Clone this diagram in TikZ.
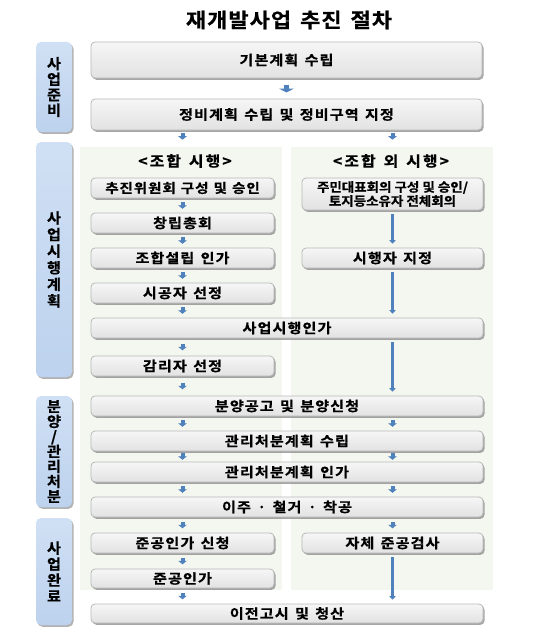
\documentclass[tikz,border=0pt]{standalone}
\usepackage{fontspec}
\setmainfont{Noto Sans CJK KR}[BoldFont={* Bold}]
\newfontfamily\krbox{Noto Sans CJK KR}[BoldFont={* Bold}, LetterSpace=8, WordSpace=1.4, BoldFeatures={FakeBold=0.6, FakeStretch=1.12}]
\newfontfamily\krone{Noto Sans CJK KR}[BoldFont={* Bold}, LetterSpace=7, WordSpace=1.2, BoldFeatures={FakeBold=0.6, FakeStretch=1.12}]
\newfontfamily\krtitle{Noto Sans CJK KR}[BoldFont={* Bold}, LetterSpace=5, WordSpace=1.5, BoldFeatures={FakeBold=0.6, FakeStretch=1.1}]
\newfontfamily\krhead{Noto Sans CJK KR}[BoldFont={* Bold}, LetterSpace=14, WordSpace=1.4, BoldFeatures={FakeBold=0.6, FakeStretch=1.1}]
\newfontfamily\krtight{Noto Sans CJK KR}[BoldFont={* Bold}, BoldFeatures={FakeBold=0.6, FakeStretch=1.08}]
\newfontfamily\krlabel{Noto Sans CJK KR}[BoldFont={* Bold}, BoldFeatures={FakeBold=0.6, FakeStretch=1.05}]
\usetikzlibrary{shadows,calc,arrows.meta}
\definecolor{boxtop}{HTML}{F6F6F6}
\definecolor{boxbot}{HTML}{E2E2E2}
\definecolor{boxline}{HTML}{B8B8B8}
\definecolor{lbltop}{HTML}{D0E0F4}
\definecolor{lblbot}{HTML}{BDD2EE}
\definecolor{arr}{HTML}{4F81BD}
\definecolor{panel}{HTML}{F4F7EF}
\tikzset{
  gbox/.style={rounded corners=4pt, draw=boxline, line width=0.8pt,
    top color=boxtop, bottom color=boxbot, inner sep=0pt,
    drop shadow={shadow xshift=1.5pt, shadow yshift=-1.8pt, fill=black!50, opacity=0.7},
    font=\krbox\bfseries\fontsize{13.5}{15}\selectfont, text=black},
  lbox/.style={rounded corners=5pt, draw=none, top color=lbltop, bottom color=lblbot,
    inner sep=0pt, minimum width=36pt, align=center,
    drop shadow={shadow xshift=1.5pt, shadow yshift=-1.8pt, fill=black!50, opacity=0.6}},
  lfont/.style={font=\krlabel\bfseries\fontsize{14.5}{#1}\selectfont},
  panelbox/.style={fill=panel, draw=none, inner sep=0pt},
  sarrow/.style={draw=arr, line width=4pt, -{Triangle[width=8.5pt,length=3.5pt]},
    to path={($(\tikztostart)!0.5!(\tikztotarget)+(0,-3.3)$) -- ($(\tikztostart)!0.5!(\tikztotarget)+(0,3.3)$)}},
  barrow/.style={draw=arr, line width=5pt, -{Triangle[width=15pt,length=4pt]},
    to path={($(\tikztostart)!0.5!(\tikztotarget)+(0,-4)$) -- ($(\tikztostart)!0.5!(\tikztotarget)+(0,4)$)}},
  larrow/.style={draw=arr, line width=3pt, -{Triangle[width=6.5pt,length=3.5pt]},
    shorten <=3.5pt, shorten >=4pt},
  head/.style={font=\krhead\bfseries\fontsize{14.5}{17}\selectfont, inner sep=0pt},
}
\begin{document}
\begin{tikzpicture}[x=1pt,y=-1pt]
\useasboundingbox (0,0) rectangle (550,642);
% title
\node[font=\krtitle\bfseries\fontsize{20}{24}\selectfont, inner sep=0pt] (title) at (289,20) {재개발사업 추진 절차};
% panels
\node[panelbox, minimum width=202pt, minimum height=443pt] (PL) at (181,368.5) {};
\node[panelbox, minimum width=202pt, minimum height=443pt] (PR) at (392,368.5) {};
% side labels
\node[lbox, minimum height=90pt, lfont=15.5pt] (L1) at (54,87) {사\\업\\준\\비};
\node[lbox, minimum height=235pt, lfont=16.6pt] (L2) at (54,259.5) {사\\업\\시\\행\\계\\획};
\node[lbox, minimum height=111pt, lfont=15pt] (L3) at (54,451.5) {분\\양\\/\\관\\리\\처\\분};
\node[lbox, minimum height=107pt, lfont=16pt] (L4) at (54,571.5) {사\\업\\완\\료};
% headers
\node[head] (HL) at (185,161) {<조합 시행>};
\node[head] (HR) at (391,161) {<조합 외 시행>};
% boxes
\node[gbox, minimum width=391pt, minimum height=36pt] (B1) at (286.5,60) {기본계획 수립};
\node[gbox, minimum width=391pt, minimum height=31pt] (B2) at (286.5,114.5) {정비계획 수립 및 정비구역 지정};
\node[gbox, minimum width=183pt, minimum height=20pt, font=\krone\bfseries\fontsize{13}{15}\selectfont] (C1) at (182.5,188) {추진위원회 구성 및 승인};
\node[gbox, minimum width=181pt, minimum height=32pt, align=center,
  font=\krtight\bfseries\fontsize{12.5}{14}\selectfont] (R1) at (392.5,194) {주민대표회의 구성 및 승인/\\토지등소유자 전체회의};
\node[gbox, minimum width=183pt, minimum height=20pt] (C2) at (182.5,223) {창립총회};
\node[gbox, minimum width=183pt, minimum height=20pt] (C3) at (182.5,258) {조합설립 인가};
\node[gbox, minimum width=181pt, minimum height=20pt] (R2) at (392.5,258) {시행자 지정};
\node[gbox, minimum width=183pt, minimum height=20pt] (C4) at (182.5,293) {시공자 선정};
\node[gbox, minimum width=392pt, minimum height=20pt] (B3) at (287,328) {사업시행인가};
\node[gbox, minimum width=183pt, minimum height=20pt] (C5) at (182.5,366) {감리자 선정};
\node[gbox, minimum width=392pt, minimum height=20pt] (B4) at (287,406) {분양공고 및 분양신청};
\node[gbox, minimum width=392pt, minimum height=20pt] (B5) at (287,441) {관리처분계획 수립};
\node[gbox, minimum width=392pt, minimum height=20pt] (B6) at (287,472) {관리처분계획 인가};
\node[gbox, minimum width=392pt, minimum height=20pt] (B7) at (287,507) {이주 · 철거 · 착공};
\node[gbox, minimum width=183pt, minimum height=20pt] (C6) at (182.5,543) {준공인가 신청};
\node[gbox, minimum width=181pt, minimum height=20pt] (R3) at (392.5,543) {자체 준공검사};
\node[gbox, minimum width=183pt, minimum height=19pt] (C7) at (182.5,578.5) {준공인가};
\node[gbox, minimum width=392pt, minimum height=19pt] (B8) at (287,613.5) {이전고시 및 청산};
% arrows
\draw[barrow] (B1.south) to (B2.north);
\draw[sarrow] (B2.south -| C1) to ($(B2.south -| C1)+(0,12)$);
\draw[sarrow] (B2.south -| R1) to ($(B2.south -| R1)+(0,12)$);
\draw[sarrow] (C1.south) to (C2.north);
\draw[sarrow] (C2.south) to (C3.north);
\draw[sarrow] (C3.south) to (C4.north);
\draw[sarrow] (C4.south) to (B3.north -| C4);
\draw[sarrow] (B3.south -| C5) to (C5.north);
\draw[sarrow] (C5.south) to (B4.north -| C5);
\draw[sarrow] (B4.south -| C5) to (B5.north -| C5);
\draw[sarrow] (B4.south -| R3) to (B5.north -| R3);
\draw[sarrow] (B5.south -| C5) to (B6.north -| C5);
\draw[sarrow] (B5.south -| R3) to (B6.north -| R3);
\draw[sarrow] (B6.south -| C5) to (B7.north -| C5);
\draw[sarrow] (B6.south -| R3) to (B7.north -| R3);
\draw[sarrow] (B7.south -| C6) to (C6.north);
\draw[sarrow] (B7.south -| R3) to (R3.north);
\draw[sarrow] (C6.south) to (C7.north);
\draw[sarrow] (C7.south) to (B8.north -| C7);
\draw[larrow] (R1.south) -- (R2.north);
\draw[larrow] (R2.south) -- (B3.north -| R2);
\draw[larrow] (B3.south -| R2) -- (B4.north -| R2);
\draw[larrow] (R3.south) -- (B8.north -| R3);
\end{tikzpicture}
\end{document}
